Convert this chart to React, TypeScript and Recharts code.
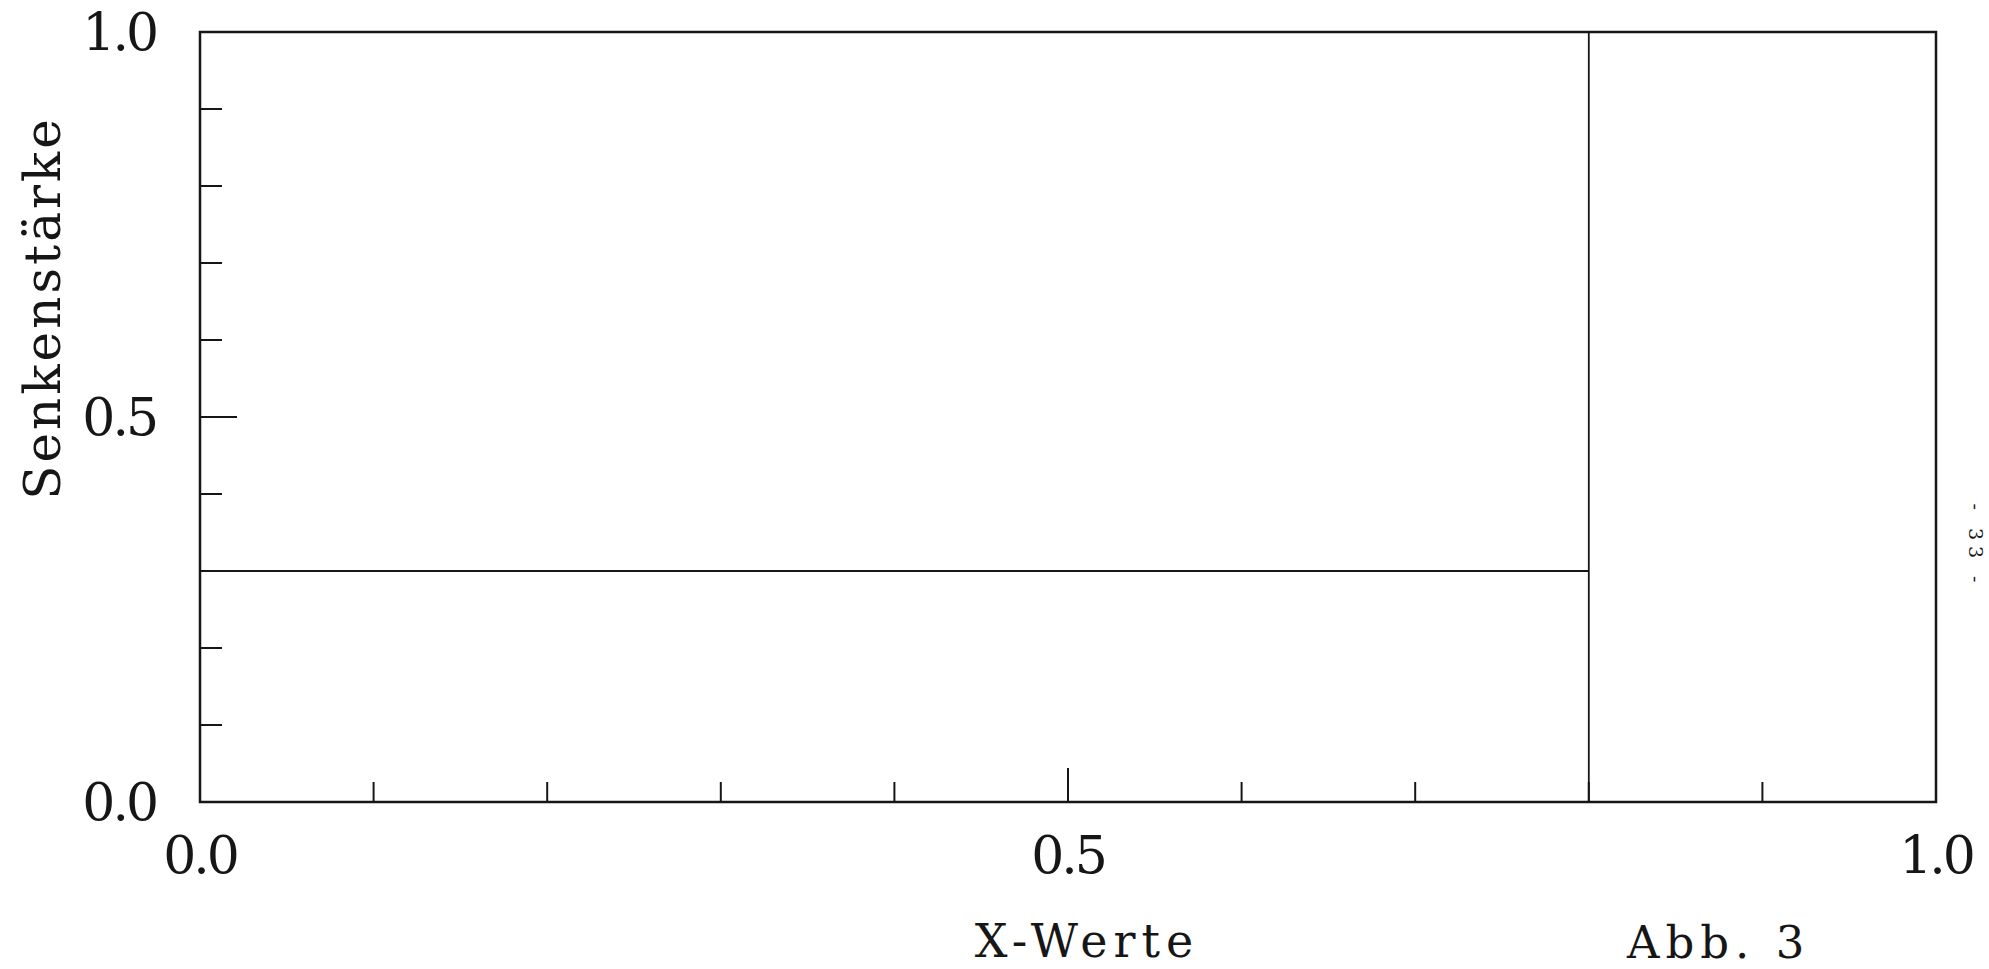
import { LineChart, Line, XAxis, YAxis, ReferenceArea, Label } from 'recharts'

const INK = '#161616'
const FONT = '"DejaVu Serif", serif'

// Achsen-Ticks (alle 0.1, beschriftet nur 0 / 0.5 / 1)
const xTicks = [0, 0.1, 0.2, 0.3, 0.4, 0.5, 0.6, 0.7, 0.8, 0.9, 1.0]
const yTicks = [0, 0.1, 0.2, 0.3, 0.4, 0.5, 0.6, 0.7, 0.8, 0.9, 1.0]
const labeledTicks = [0, 0.5, 1.0]
const longTicks = [0.5]

// Senkenstärke: konstant 0.3 bis x = 0.8, dort senkrechter Strich über die ganze Höhe
const plateauX = [0.0, 0.8]
const plateauY = [0.3, 0.3]
const stepX = [0.8, 0.8]
const stepY = [0.0, 1.0]

const plateau = plateauX.map((x, i) => ({ x, y: plateauY[i] }))
const step = stepX.map((x, i) => ({ x, y: stepY[i] }))

const YTick = (props: any) => {
  const { x, y, payload } = props
  const v = payload.value
  const len = longTicks.includes(v) ? 37 : 22
  return (
    <g>
      <line x1={x} y1={y} x2={x + len} y2={y} stroke={INK} strokeWidth={2} />
      {labeledTicks.includes(v) && (
        <text
          x={x - 44}
          y={y}
          textAnchor="end"
          dominantBaseline="central"
          fontFamily={FONT}
          fontSize={52}
          letterSpacing={-3}
          fill={INK}
        >
          {v.toFixed(1)}
        </text>
      )}
    </g>
  )
}

const XTick = (props: any) => {
  const { x, y, payload } = props
  const v = payload.value
  const len = longTicks.includes(v) ? 34 : 20
  return (
    <g>
      <line x1={x} y1={y} x2={x} y2={y - len} stroke={INK} strokeWidth={2} />
      {labeledTicks.includes(v) && (
        <text
          x={x}
          y={y + 53}
          textAnchor="middle"
          dominantBaseline="central"
          fontFamily={FONT}
          fontSize={52}
          letterSpacing={-3}
          fill={INK}
        >
          {v.toFixed(1)}
        </text>
      )}
    </g>
  )
}

const xTitle = (props: any) => {
  const vb = props.viewBox
  return (
    <g>
      <text
        x={vb.x + vb.width / 2 + 19}
        y={vb.y + 155}
        textAnchor="middle"
        fontFamily={FONT}
        fontSize={46}
        letterSpacing={6}
        fill={INK}
      >
        X-Werte
      </text>
      <text
        x={vb.x + vb.width - 309}
        y={vb.y + 156}
        textAnchor="start"
        fontFamily={FONT}
        fontSize={45}
        letterSpacing={6}
        fill={INK}
      >
        Abb. 3
      </text>
    </g>
  )
}

const yTitle = (props: any) => {
  const vb = props.viewBox
  const cx = vb.x + 60
  const cy = vb.y + 276
  return (
    <text
      x={cx}
      y={cy}
      transform={`rotate(-90, ${cx}, ${cy})`}
      textAnchor="middle"
      fontFamily={FONT}
      fontSize={50}
      letterSpacing={3}
      fill={INK}
    >
      Senkenstärke
    </text>
  )
}

export default function App() {
  return (
    <div
      style={{
        position: 'absolute',
        left: 0,
        top: 0,
        width: 1989,
        height: 969,
        background: '#fff',
        overflow: 'hidden',
      }}
    >
      <LineChart width={1989} height={969} margin={{ top: 32, right: 53, bottom: 0, left: 0 }}>
        <XAxis
          dataKey="x"
          type="number"
          domain={[0, 1]}
          ticks={xTicks}
          interval={0}
          height={167}
          axisLine={false}
          tickLine={false}
          tickSize={0}
          tickMargin={0}
          tick={<XTick />}
          allowDataOverflow
        >
          <Label content={xTitle} />
        </XAxis>
        <YAxis
          dataKey="y"
          type="number"
          domain={[0, 1]}
          ticks={yTicks}
          interval={0}
          width={200}
          axisLine={false}
          tickLine={false}
          tickSize={0}
          tickMargin={0}
          tick={<YTick />}
          allowDataOverflow
        >
          <Label content={yTitle} />
        </YAxis>
        <ReferenceArea x1={0} x2={1} y1={0} y2={1} fill="none" stroke={INK} strokeWidth={2.5} />
        <Line
          data={plateau}
          dataKey="y"
          type="linear"
          stroke={INK}
          strokeWidth={1.8}
          dot={false}
          activeDot={false}
          isAnimationActive={false}
        />
        <Line
          data={step}
          dataKey="y"
          type="linear"
          stroke={INK}
          strokeWidth={1.8}
          dot={false}
          activeDot={false}
          isAnimationActive={false}
        />
      </LineChart>
      <div
        style={{
          position: 'absolute',
          left: 1976,
          top: 546,
          transform: 'translate(-50%, -50%) rotate(90deg)',
          fontFamily: FONT,
          fontSize: 19,
          letterSpacing: 6,
          whiteSpace: 'nowrap',
          color: INK,
        }}
      >
        - 33 -
      </div>
    </div>
  )
}
